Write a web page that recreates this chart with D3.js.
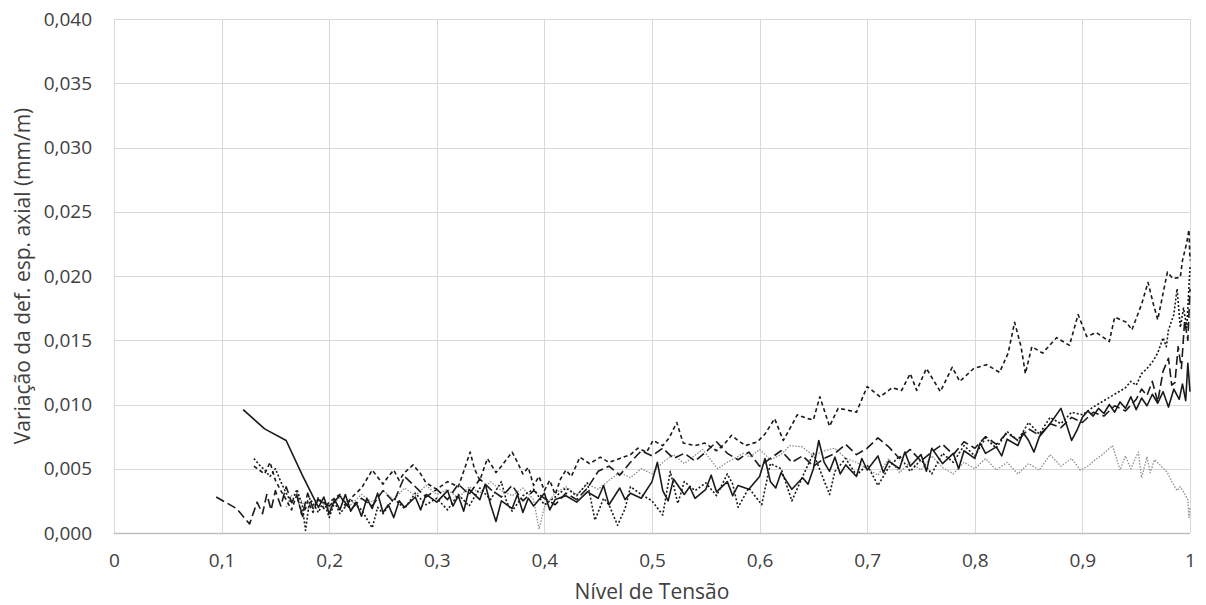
<!DOCTYPE html>
<html>
<head>
<meta charset="utf-8">
<script src="https://cdn.jsdelivr.net/npm/d3@7"></script>
<style>
  html, body { margin: 0; padding: 0; background: #fff; }
  svg { display: block; }
  text { font-family: "Open Sans", "Noto Sans", sans-serif; fill: #404040; }
</style>
</head>
<body>
<svg id="chart" width="1206" height="605"></svg>
<script>
// Axis ticks
const xTicks = [0, 0.1, 0.2, 0.3, 0.4, 0.5, 0.6, 0.7, 0.8, 0.9, 1];
const yTicks = [0, 0.005, 0.010, 0.015, 0.020, 0.025, 0.030, 0.035, 0.040];
const xTitle = "Nível de Tensão";
const yTitle = "Variação da def. esp. axial (mm/m)";

// Measured series: [stress level, variation of axial strain (mm/m)]
const serieSolid = [
  [0.12,0.0096],[0.14,0.0081],[0.16,0.0072],[0.175,0.0045],[0.19,0.0020],
  [0.195,0.0028],[0.20,0.0015],[0.205,0.0026],[0.21,0.0018],[0.215,0.0030],[0.22,0.0017],[0.225,0.0024],
  [0.23,0.0013],[0.235,0.0027],[0.24,0.0019],[0.245,0.0031],[0.25,0.0016],[0.255,0.0022],[0.26,0.0012],
  [0.265,0.0025],[0.27,0.0020],[0.28,0.0028],[0.285,0.0018],[0.29,0.0030],[0.30,0.0024],[0.31,0.0033],
  [0.315,0.0021],[0.32,0.0029],[0.325,0.0017],[0.33,0.0034],[0.34,0.0026],[0.345,0.0038],[0.35,0.0022],
  [0.355,0.0009],[0.36,0.0025],[0.37,0.0019],[0.375,0.0030],[0.38,0.0016],[0.385,0.0027],[0.39,0.0021],
  [0.40,0.0031],[0.405,0.0018],[0.41,0.0026],[0.42,0.0029],[0.43,0.0024],[0.44,0.0032],[0.45,0.0027],
  [0.455,0.0037],[0.46,0.0022],[0.47,0.0035],[0.475,0.0026],[0.48,0.0031],[0.49,0.0027],[0.50,0.0040],
  [0.505,0.0055],[0.51,0.0033],[0.515,0.0025],[0.52,0.0042],[0.53,0.0030],[0.535,0.0036],[0.54,0.0027],
  [0.55,0.0034],[0.555,0.0045],[0.56,0.0032],[0.57,0.0040],[0.575,0.0029],[0.58,0.0037],[0.59,0.0034],
  [0.60,0.0044],[0.605,0.0058],[0.61,0.0040],[0.615,0.0035],[0.62,0.0047],[0.63,0.0034],[0.64,0.0043],
  [0.645,0.0038],[0.65,0.0050],[0.655,0.0072],[0.66,0.0055],[0.665,0.0048],[0.67,0.0059],[0.675,0.0046],
  [0.68,0.0053],[0.69,0.0044],[0.695,0.0058],[0.70,0.0049],[0.71,0.0060],[0.715,0.0047],[0.72,0.0056],
  [0.73,0.0050],[0.735,0.0063],[0.74,0.0052],[0.75,0.0061],[0.755,0.0048],[0.76,0.0066],[0.77,0.0054],
  [0.78,0.0062],[0.785,0.0050],[0.79,0.0064],[0.80,0.0058],[0.805,0.0070],[0.81,0.0062],[0.82,0.0067],
  [0.825,0.0060],[0.83,0.0073],[0.84,0.0068],[0.845,0.0078],[0.85,0.0072],[0.855,0.0063],[0.86,0.0075],
  [0.87,0.0085],[0.88,0.0097],[0.885,0.0085],[0.89,0.0072],[0.895,0.0080],[0.90,0.0090],[0.905,0.0095],
  [0.91,0.0091],[0.915,0.0097],[0.92,0.0093],[0.925,0.0100],[0.93,0.0094],[0.935,0.0102],[0.94,0.0097],
  [0.945,0.0106],[0.95,0.0096],[0.955,0.0105],[0.96,0.0099],[0.965,0.0108],[0.97,0.0101],[0.975,0.0110],
  [0.98,0.0098],[0.985,0.0112],[0.99,0.0104],[0.993,0.0116],[0.996,0.0103],[0.998,0.0132],[1.0,0.0110]
];

const serieDash = [
  [0.13,0.0052],[0.14,0.0046],[0.145,0.0055],[0.15,0.0041],[0.155,0.0033],[0.16,0.0026],[0.165,0.0018],
  [0.17,0.0030],[0.175,0.0012],[0.18,0.0025],[0.185,0.0016],[0.19,0.0028],[0.195,0.0019],[0.20,0.0024],
  [0.21,0.0030],[0.215,0.0021],[0.22,0.0027],[0.23,0.0035],[0.235,0.0042],[0.24,0.0049],[0.25,0.0038],
  [0.255,0.0044],[0.26,0.0049],[0.265,0.0041],[0.27,0.0047],[0.278,0.0053],[0.285,0.0046],[0.29,0.0039],
  [0.30,0.0034],[0.31,0.0040],[0.32,0.0036],[0.325,0.0048],[0.331,0.0063],[0.335,0.0050],[0.34,0.0041],
  [0.347,0.0058],[0.355,0.0047],[0.36,0.0052],[0.37,0.0063],[0.375,0.0055],[0.38,0.0046],[0.385,0.0051],
  [0.39,0.0037],[0.395,0.0044],[0.40,0.0033],[0.405,0.0041],[0.41,0.0030],[0.415,0.0042],[0.42,0.0049],
  [0.425,0.0044],[0.433,0.0059],[0.442,0.0054],[0.452,0.0059],[0.46,0.0055],[0.47,0.0058],[0.48,0.0061],
  [0.487,0.0066],[0.495,0.0063],[0.501,0.0072],[0.51,0.0068],[0.516,0.0074],[0.523,0.0086],[0.529,0.0070],
  [0.54,0.0068],[0.549,0.0070],[0.56,0.0064],[0.567,0.0069],[0.574,0.0076],[0.58,0.0072],[0.587,0.0068],
  [0.598,0.0071],[0.605,0.0077],[0.614,0.0089],[0.622,0.0072],[0.628,0.0081],[0.635,0.0092],[0.645,0.0089],
  [0.65,0.0088],[0.656,0.0106],[0.665,0.0083],[0.673,0.0097],[0.68,0.0096],[0.69,0.0094],[0.70,0.0114],
  [0.712,0.0106],[0.723,0.0113],[0.732,0.0111],[0.74,0.0124],[0.746,0.0111],[0.755,0.0128],[0.768,0.0110],
  [0.779,0.0129],[0.786,0.0118],[0.799,0.0128],[0.811,0.0131],[0.823,0.0125],[0.831,0.0140],[0.837,0.0164],
  [0.843,0.0145],[0.847,0.0124],[0.853,0.0145],[0.863,0.0140],[0.876,0.0152],[0.888,0.0146],[0.896,0.0170],
  [0.904,0.0153],[0.913,0.0156],[0.925,0.0149],[0.930,0.0168],[0.941,0.0164],[0.946,0.0158],[0.955,0.0178],
  [0.961,0.0195],[0.966,0.0178],[0.970,0.0166],[0.979,0.0203],[0.984,0.0198],[0.991,0.0199],[0.993,0.0212],
  [0.997,0.0226],[0.999,0.0236],[1.0,0.0212]
];

const serieLongDash = [
  [0.095,0.0028],[0.114,0.0019],[0.126,0.0007],[0.133,0.0024],[0.138,0.0015],[0.142,0.0030],[0.146,0.0018],
  [0.15,0.0033],[0.155,0.0021],[0.16,0.0036],[0.165,0.0024],[0.17,0.0029],[0.175,0.0014],[0.18,0.0031],
  [0.185,0.0019],[0.19,0.0026],[0.20,0.0021],[0.21,0.0029],[0.22,0.0018],[0.23,0.0027],[0.24,0.0021],
  [0.25,0.0033],[0.26,0.0024],[0.27,0.0044],[0.28,0.0036],[0.29,0.0028],[0.30,0.0034],[0.31,0.0026],
  [0.32,0.0038],[0.33,0.0030],[0.34,0.0042],[0.35,0.0034],[0.36,0.0028],[0.37,0.0037],[0.38,0.0025],
  [0.39,0.0033],[0.40,0.0027],[0.41,0.0022],[0.42,0.0031],[0.43,0.0026],[0.44,0.0035],[0.45,0.0048],
  [0.46,0.0052],[0.47,0.0045],[0.48,0.0055],[0.49,0.0064],[0.50,0.0060],[0.51,0.0066],[0.52,0.0058],
  [0.53,0.0062],[0.54,0.0056],[0.55,0.0063],[0.56,0.0071],[0.57,0.0062],[0.58,0.0057],[0.59,0.0063],
  [0.60,0.0052],[0.61,0.0058],[0.62,0.0064],[0.63,0.0055],[0.64,0.0060],[0.65,0.0052],[0.66,0.0058],
  [0.67,0.0062],[0.68,0.0069],[0.69,0.0061],[0.70,0.0066],[0.71,0.0074],[0.72,0.0067],[0.73,0.0058],
  [0.74,0.0065],[0.75,0.0056],[0.76,0.0063],[0.77,0.0069],[0.78,0.0061],[0.79,0.0071],[0.80,0.0066],
  [0.81,0.0075],[0.82,0.0069],[0.83,0.0078],[0.84,0.0072],[0.85,0.0081],[0.86,0.0076],[0.87,0.0085],
  [0.88,0.0082],[0.89,0.0090],[0.90,0.0086],[0.91,0.0094],[0.92,0.0091],[0.93,0.0099],[0.94,0.0095],
  [0.95,0.0104],[0.955,0.0112],[0.96,0.0107],[0.965,0.0118],[0.97,0.0102],[0.975,0.0126],[0.98,0.0136],
  [0.983,0.0115],[0.986,0.0117],[0.989,0.0145],[0.992,0.0128],[0.995,0.0165],[0.998,0.0150],[1.0,0.0190]
];

const serieRoundDot = [
  [0.13,0.0058],[0.135,0.0053],[0.14,0.0049],[0.145,0.0044],[0.15,0.0050],[0.155,0.0040],[0.16,0.0031],
  [0.165,0.0023],[0.17,0.0034],[0.175,0.0021],[0.178,0.0002],[0.182,0.0027],[0.19,0.0016],[0.195,0.0025],
  [0.20,0.0012],[0.205,0.0024],[0.21,0.0015],[0.22,0.0026],[0.23,0.0018],[0.24,0.0004],[0.245,0.0020],
  [0.25,0.0015],[0.26,0.0027],[0.27,0.0019],[0.28,0.0031],[0.29,0.0022],[0.30,0.0027],[0.31,0.0018],
  [0.32,0.0030],[0.33,0.0021],[0.34,0.0035],[0.35,0.0026],[0.36,0.0040],[0.365,0.0024],[0.37,0.0017],
  [0.38,0.0029],[0.39,0.0034],[0.40,0.0022],[0.41,0.0028],[0.42,0.0035],[0.43,0.0029],[0.44,0.0039],
  [0.447,0.0010],[0.455,0.0027],[0.46,0.0022],[0.468,0.0006],[0.475,0.0019],[0.48,0.0036],[0.49,0.0030],
  [0.50,0.0025],[0.51,0.0014],[0.517,0.0048],[0.524,0.0023],[0.53,0.0040],[0.54,0.0033],[0.55,0.0039],
  [0.56,0.0029],[0.57,0.0046],[0.575,0.0038],[0.58,0.0020],[0.59,0.0035],[0.602,0.0022],[0.61,0.0054],
  [0.62,0.0050],[0.63,0.0025],[0.64,0.0044],[0.65,0.0062],[0.665,0.0030],[0.67,0.0048],[0.68,0.0058],
  [0.69,0.0045],[0.70,0.0053],[0.71,0.0037],[0.72,0.0051],[0.73,0.0060],[0.74,0.0048],[0.75,0.0057],
  [0.76,0.0046],[0.77,0.0062],[0.78,0.0055],[0.79,0.0068],[0.80,0.0060],[0.81,0.0074],[0.82,0.0066],
  [0.83,0.0079],[0.84,0.0072],[0.85,0.0086],[0.86,0.0077],[0.87,0.0090],[0.88,0.0085],[0.89,0.0094],
  [0.90,0.0092],[0.91,0.0098],[0.92,0.0103],[0.93,0.0108],[0.94,0.0113],[0.945,0.0118],[0.95,0.0115],
  [0.955,0.0124],[0.96,0.0128],[0.965,0.0133],[0.97,0.0140],[0.975,0.0152],[0.978,0.0145],[0.98,0.0158],
  [0.985,0.0170],[0.988,0.0190],[0.991,0.0160],[0.994,0.0175],[0.997,0.0160],[1.0,0.0207]
];

const serieGrayDot = [
  [0.16,0.0020],[0.165,0.0029],[0.17,0.0031],[0.175,0.0024],[0.18,0.0018],[0.19,0.0026],[0.20,0.0019],
  [0.21,0.0028],[0.22,0.0022],[0.23,0.0030],[0.24,0.0024],[0.25,0.0033],[0.26,0.0026],[0.27,0.0035],
  [0.28,0.0029],[0.29,0.0037],[0.30,0.0030],[0.31,0.0034],[0.32,0.0027],[0.33,0.0036],[0.34,0.0031],
  [0.35,0.0040],[0.36,0.0033],[0.37,0.0029],[0.38,0.0035],[0.39,0.0026],[0.395,0.0003],[0.40,0.0020],
  [0.41,0.0031],[0.42,0.0036],[0.43,0.0030],[0.44,0.0038],[0.45,0.0034],[0.46,0.0041],[0.47,0.0047],
  [0.48,0.0043],[0.49,0.0050],[0.50,0.0046],[0.51,0.0055],[0.52,0.0061],[0.53,0.0054],[0.547,0.0065],
  [0.561,0.0050],[0.57,0.0055],[0.585,0.0062],[0.591,0.0059],[0.60,0.0065],[0.61,0.0057],[0.62,0.0061],
  [0.628,0.0068],[0.64,0.0067],[0.65,0.0060],[0.66,0.0064],[0.67,0.0066],[0.68,0.0058],[0.69,0.0055],
  [0.70,0.0050],[0.71,0.0045],[0.72,0.0058],[0.73,0.0047],[0.74,0.0055],[0.75,0.0049],[0.76,0.0060],
  [0.77,0.0051],[0.78,0.0046],[0.79,0.0055],[0.80,0.0050],[0.81,0.0058],[0.82,0.0049],[0.83,0.0055],
  [0.84,0.0046],[0.85,0.0054],[0.86,0.0049],[0.87,0.0061],[0.88,0.0052],[0.89,0.0058],[0.898,0.0049],
  [0.905,0.0052],[0.912,0.0057],[0.92,0.0062],[0.928,0.0068],[0.935,0.0049],[0.94,0.0060],[0.945,0.0050],
  [0.952,0.0063],[0.955,0.0043],[0.96,0.0059],[0.963,0.0047],[0.967,0.0057],[0.972,0.0053],[0.979,0.0047],
  [0.983,0.0040],[0.988,0.0033],[0.991,0.0036],[0.994,0.0032],[0.998,0.0026],[0.999,0.0012],[1.0,0.0020]
];

const series = [
  { data: serieGrayDot,   stroke: "#8c8c8c", width: 1.3, dash: "1.5,1.5" },
  { data: serieLongDash,  stroke: "#1a1a1a", width: 1.6, dash: "9,4" },
  { data: serieRoundDot,  stroke: "#1a1a1a", width: 1.6, dash: "2,2" },
  { data: serieDash,      stroke: "#1a1a1a", width: 1.6, dash: "4,3" },
  { data: serieSolid,     stroke: "#1a1a1a", width: 1.6, dash: null }
];

const svg = d3.select("#chart");
const margin = { left: 114, right: 16, top: 19, bottom: 72 };
const W = 1206, H = 605;

const x = d3.scaleLinear().domain([0, 1]).range([margin.left, W - margin.right]);
const y = d3.scaleLinear().domain([0, 0.040]).range([H - margin.bottom, margin.top]);

const fmtX = d => d === 0 ? "0" : d === 1 ? "1" : d3.format(".1f")(d).replace(".", ",");
const fmtY = d => d3.format(".3f")(d).replace(".", ",");

// Gridlines
const grid = svg.append("g");
grid.selectAll("line.h").data(yTicks.slice(1)).join("line")
  .attr("x1", x(0)).attr("x2", x(1))
  .attr("y1", d => Math.round(y(d)) + 0.5).attr("y2", d => Math.round(y(d)) + 0.5)
  .attr("stroke", "#d9d9d9").attr("stroke-width", 1);
grid.selectAll("line.v").data(xTicks).join("line")
  .attr("x1", d => Math.round(x(d)) + 0.5).attr("x2", d => Math.round(x(d)) + 0.5)
  .attr("y1", y(0)).attr("y2", y(0.040))
  .attr("stroke", "#d9d9d9").attr("stroke-width", 1);

// Bottom axis line
svg.append("line")
  .attr("x1", x(0)).attr("x2", x(1))
  .attr("y1", Math.round(y(0)) + 0.5).attr("y2", Math.round(y(0)) + 0.5)
  .attr("stroke", "#bfbfbf").attr("stroke-width", 1.5);

// Tick labels
const xAxis = d3.axisBottom(x).tickValues(xTicks).tickFormat(fmtX).tickSize(0).tickPadding(21);
const gx = svg.append("g").attr("transform", `translate(0,${y(0)})`).call(xAxis);
gx.select(".domain").remove();
gx.selectAll("text").attr("font-size", 19).attr("fill", "#404040")
  .style("font-family", "'Open Sans', sans-serif");

const yAxis = d3.axisLeft(y).tickValues(yTicks).tickFormat(fmtY).tickSize(0).tickPadding(22);
const gy = svg.append("g").attr("transform", `translate(${x(0)},0)`).call(yAxis);
gy.select(".domain").remove();
gy.selectAll("text").attr("font-size", 19).attr("fill", "#404040")
  .style("font-family", "'Open Sans', sans-serif");

// Series lines
const line = d3.line().x(d => x(d[0])).y(d => y(d[1]));
const lines = svg.append("g").attr("fill", "none");
series.forEach(s => {
  lines.append("path")
    .datum(s.data)
    .attr("d", line)
    .attr("stroke", s.stroke)
    .attr("stroke-width", s.width)
    .attr("stroke-linejoin", "round")
    .attr("stroke-dasharray", s.dash);
});

// Axis titles
svg.append("text")
  .attr("x", (x(0) + x(1)) / 2).attr("y", 599)
  .attr("text-anchor", "middle").attr("font-size", 21)
  .text(xTitle);

svg.append("text")
  .attr("transform", `translate(30,${(y(0) + y(0.040)) / 2}) rotate(-90)`)
  .attr("text-anchor", "middle").attr("font-size", 21)
  .text(yTitle);
</script>
</body>
</html>
